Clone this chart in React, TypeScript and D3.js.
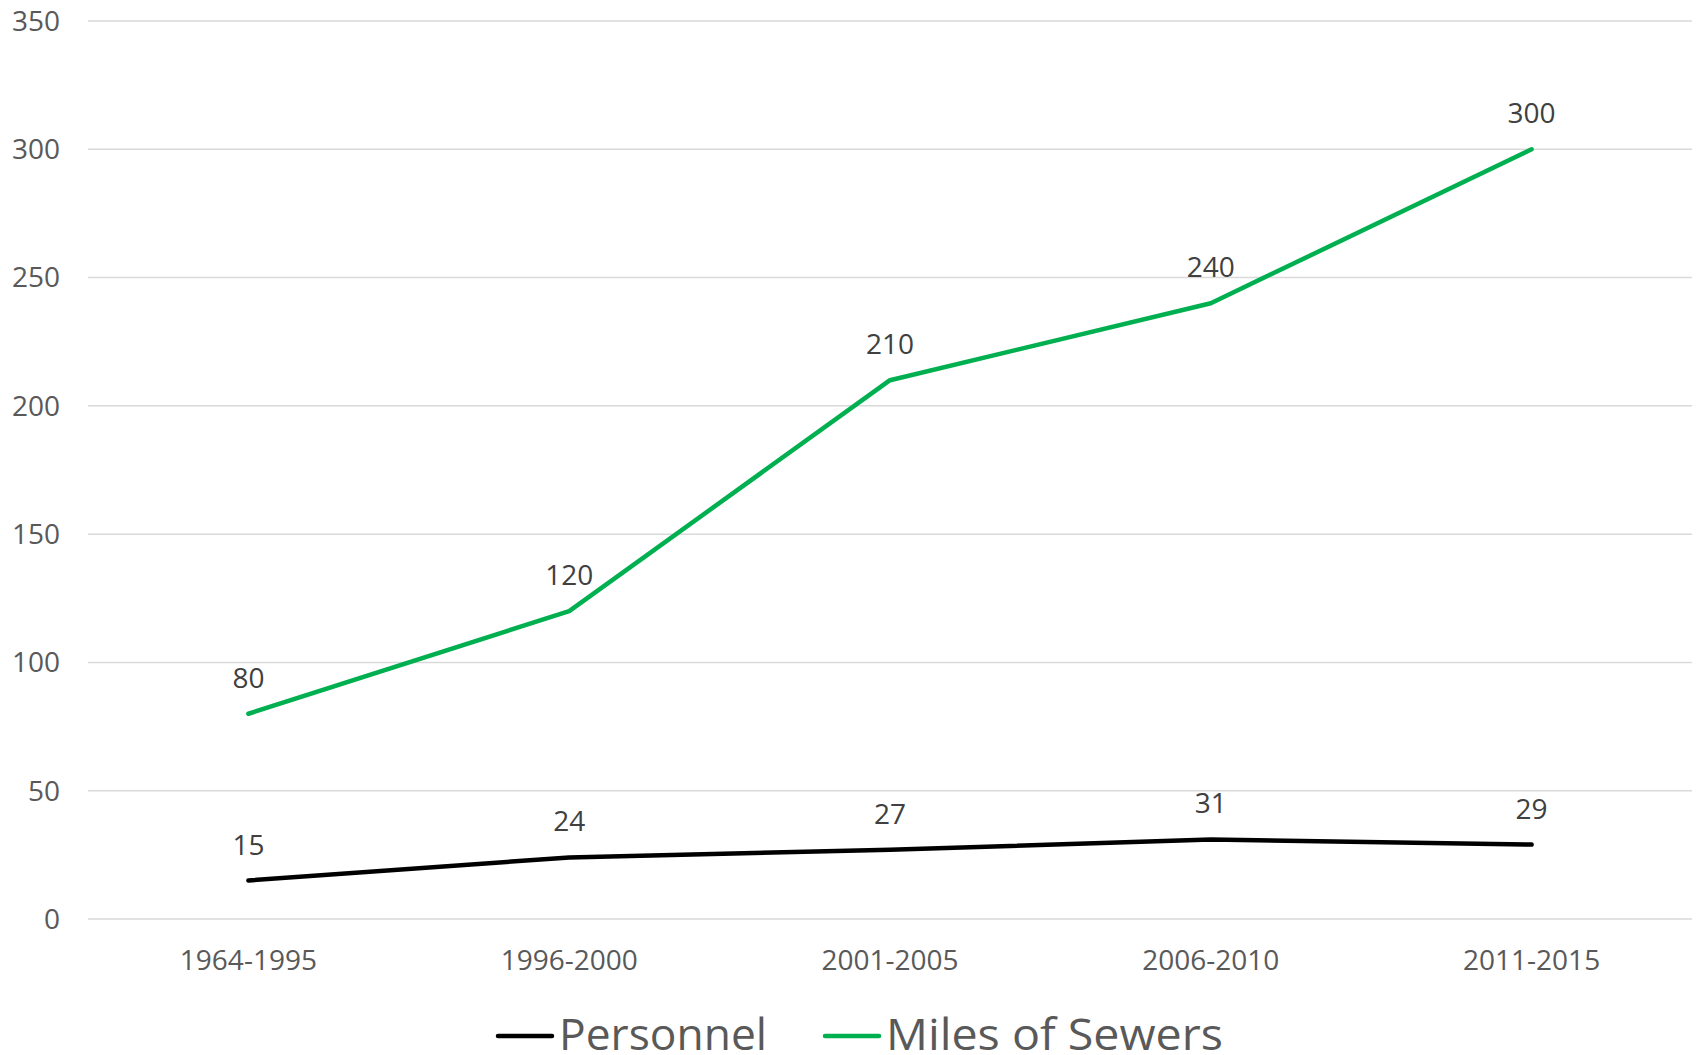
import React, { useEffect, useRef } from 'react'
import * as d3 from 'd3'

const categories = ['1964-1995', '1996-2000', '2001-2005', '2006-2010', '2011-2015']
const personnel = [15, 24, 27, 31, 29]
const milesOfSewers = [80, 120, 210, 240, 300]
const yTicks = [0, 50, 100, 150, 200, 250, 300, 350]

const seriesList = [
  { name: 'Personnel', values: personnel, color: '#000000' },
  { name: 'Miles of Sewers', values: milesOfSewers, color: '#00B050' },
]

const W = 1696
const H = 1055
const FONT = "'Open Sans', 'Noto Sans', sans-serif"

const App = () => {
  const ref = useRef<SVGSVGElement>(null)

  useEffect(() => {
    const svg = d3.select(ref.current)
    svg.selectAll('*').remove()

    const left = 88, right = 1692, top = 21, bottom = 919

    const x = d3.scaleBand().domain(categories).range([left, right])
    const y = d3.scaleLinear().domain([0, 350]).range([bottom, top])
    const cx = (c: string) => (x(c) as number) + x.bandwidth() / 2

    // gridlines + y labels
    svg.append('g').selectAll('line')
      .data(yTicks).enter().append('line')
      .attr('x1', left).attr('x2', right)
      .attr('y1', d => y(d)).attr('y2', d => y(d))
      .attr('stroke', '#d9d9d9').attr('stroke-width', 1.5)

    svg.append('g').selectAll('text')
      .data(yTicks).enter().append('text')
      .attr('x', 60).attr('y', d => y(d))
      .attr('dy', '0.35em')
      .attr('text-anchor', 'end')
      .attr('font-family', FONT).attr('font-size', 28)
      .attr('fill', '#595959')
      .text(d => d)

    // x labels
    svg.append('g').selectAll('text')
      .data(categories).enter().append('text')
      .attr('x', d => cx(d)).attr('y', 970)
      .attr('text-anchor', 'middle')
      .attr('font-family', FONT).attr('font-size', 28)
      .attr('fill', '#595959')
      .text(d => d)

    const line = d3.line<number>()
      .x((d, i) => cx(categories[i]))
      .y(d => y(d))

    seriesList.forEach(s => {
      svg.append('path')
        .datum(s.values)
        .attr('d', line)
        .attr('fill', 'none')
        .attr('stroke', s.color)
        .attr('stroke-width', 4.5)
        .attr('stroke-linecap', 'round')
        .attr('stroke-linejoin', 'round')

      svg.append('g').selectAll('text')
        .data(s.values).enter().append('text')
        .attr('x', (d, i) => cx(categories[i]))
        .attr('y', d => y(d) - 26)
        .attr('text-anchor', 'middle')
        .attr('font-family', FONT).attr('font-size', 28)
        .attr('fill', '#404040')
        .text(d => d)
    })

    // legend
    const legend = [
      { x: 498, len: 208 },
      { x: 825, len: 337 },
    ]
    seriesList.forEach((s, i) => {
      const g = svg.append('g')
      g.append('line')
        .attr('x1', legend[i].x).attr('x2', legend[i].x + 54)
        .attr('y1', 1036).attr('y2', 1036)
        .attr('stroke', s.color).attr('stroke-width', 4.5)
        .attr('stroke-linecap', 'round')
      g.append('text')
        .attr('x', legend[i].x + 61).attr('y', 1050)
        .attr('font-family', FONT).attr('font-size', 44)
        .attr('textLength', legend[i].len)
        .attr('lengthAdjust', 'spacingAndGlyphs')
        .attr('fill', '#595959')
        .text(s.name)
    })
  }, [])

  return (
    <svg ref={ref} width={W} height={H} style={{ position: 'absolute', left: 0, top: 0, background: '#fff' }} />
  )
}

export default App
